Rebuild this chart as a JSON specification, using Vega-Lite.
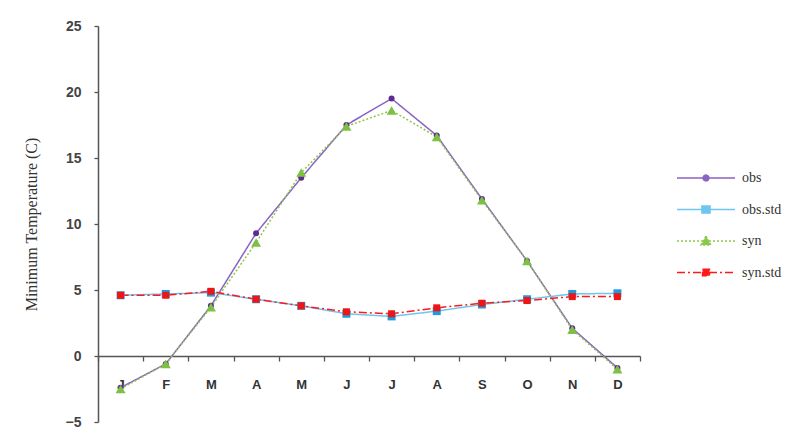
{
  "$schema": "https://vega.github.io/schema/vega-lite/v6.json",
  "autosize": {"type": "none"},
  "padding": {"left": 98, "top": 26, "right": 161, "bottom": 21},
  "width": 542,
  "height": 396,
  "background": "white",
  "config": {
    "view": {"stroke": null}
  },
  "data": {
    "values": [
      {"month": "Jan", "series": "obs", "value": -2.4},
      {"month": "Feb", "series": "obs", "value": -0.6},
      {"month": "Mar", "series": "obs", "value": 3.8},
      {"month": "Apr", "series": "obs", "value": 9.3},
      {"month": "May", "series": "obs", "value": 13.5},
      {"month": "Jun", "series": "obs", "value": 17.5},
      {"month": "Jul", "series": "obs", "value": 19.5},
      {"month": "Aug", "series": "obs", "value": 16.7},
      {"month": "Sep", "series": "obs", "value": 11.9},
      {"month": "Oct", "series": "obs", "value": 7.2},
      {"month": "Nov", "series": "obs", "value": 2.1},
      {"month": "Dec", "series": "obs", "value": -0.9},
      {"month": "Jan", "series": "obs.std", "value": 4.6},
      {"month": "Feb", "series": "obs.std", "value": 4.7},
      {"month": "Mar", "series": "obs.std", "value": 4.8},
      {"month": "Apr", "series": "obs.std", "value": 4.3},
      {"month": "May", "series": "obs.std", "value": 3.8},
      {"month": "Jun", "series": "obs.std", "value": 3.2},
      {"month": "Jul", "series": "obs.std", "value": 3.0},
      {"month": "Aug", "series": "obs.std", "value": 3.4},
      {"month": "Sep", "series": "obs.std", "value": 3.9},
      {"month": "Oct", "series": "obs.std", "value": 4.3},
      {"month": "Nov", "series": "obs.std", "value": 4.7},
      {"month": "Dec", "series": "obs.std", "value": 4.75},
      {"month": "Jan", "series": "syn", "value": -2.5},
      {"month": "Feb", "series": "syn", "value": -0.6},
      {"month": "Mar", "series": "syn", "value": 3.7},
      {"month": "Apr", "series": "syn", "value": 8.6},
      {"month": "May", "series": "syn", "value": 13.9},
      {"month": "Jun", "series": "syn", "value": 17.4},
      {"month": "Jul", "series": "syn", "value": 18.6},
      {"month": "Aug", "series": "syn", "value": 16.6},
      {"month": "Sep", "series": "syn", "value": 11.8},
      {"month": "Oct", "series": "syn", "value": 7.2},
      {"month": "Nov", "series": "syn", "value": 2.0},
      {"month": "Dec", "series": "syn", "value": -1.0},
      {"month": "Jan", "series": "syn.std", "value": 4.6},
      {"month": "Feb", "series": "syn.std", "value": 4.6},
      {"month": "Mar", "series": "syn.std", "value": 4.9},
      {"month": "Apr", "series": "syn.std", "value": 4.3},
      {"month": "May", "series": "syn.std", "value": 3.8},
      {"month": "Jun", "series": "syn.std", "value": 3.35},
      {"month": "Jul", "series": "syn.std", "value": 3.2},
      {"month": "Aug", "series": "syn.std", "value": 3.65},
      {"month": "Sep", "series": "syn.std", "value": 4.0},
      {"month": "Oct", "series": "syn.std", "value": 4.2},
      {"month": "Nov", "series": "syn.std", "value": 4.5},
      {"month": "Dec", "series": "syn.std", "value": 4.5}
    ]
  },
  "encoding": {
    "x": {
      "field": "month",
      "type": "ordinal",
      "sort": ["Jan","Feb","Mar","Apr","May","Jun","Jul","Aug","Sep","Oct","Nov","Dec"],
      "scale": {"type": "band", "paddingInner": 0, "paddingOuter": 0},
      "axis": {
        "title": null,
        "offset": -66,
        "labelAngle": 0,
        "labelExpr": "datum.value ? substring(datum.value, 0, 1) : ''",
        "tickBand": "extent",
        "tickSize": 5,
        "tickColor": "#555555",
        "tickWidth": 1.3,
        "domainColor": "#555555",
        "domainWidth": 1.5,
        "labelPadding": 17,
        "labelFont": "Liberation Sans",
        "labelFontWeight": "bold",
        "labelFontSize": 13,
        "labelColor": "#333333",
        "grid": false
      }
    },
    "y": {
      "field": "value",
      "type": "quantitative",
      "scale": {"domain": [-5, 25], "nice": false, "zero": false},
      "axis": {
        "title": "Minimum Temperature (C)",
        "titleFont": "Liberation Serif",
        "titleFontWeight": "normal",
        "titleFontSize": 16,
        "titleColor": "#333333",
        "titleX": -59,
        "values": [-5, 0, 5, 10, 15, 20, 25],
        "tickSize": 4,
        "tickColor": "#555555",
        "tickWidth": 1.3,
        "domainColor": "#555555",
        "domainWidth": 1.5,
        "labelPadding": 13,
        "labelFont": "Liberation Sans",
        "labelFontWeight": "bold",
        "labelFontSize": 14,
        "labelColor": "#444444",
        "grid": false
      }
    }
  },
  "layer": [
    {
      "mark": {"type": "line", "strokeWidth": 1.5},
      "encoding": {
        "color": {
          "field": "series", "type": "nominal",
          "scale": {"domain": ["obs","obs.std","syn","syn.std"], "range": ["#8A63C4","#6EC6F0","#8CC84B","#FF1A1A"]}
        },
        "strokeDash": {
          "field": "series", "type": "nominal",
          "scale": {"domain": ["obs","obs.std","syn","syn.std"], "range": [[1,0],[1,0],[2,2],[8,3,2,3]]}
        }
      }
    },
    {
      "transform": [{"filter": "datum.series == 'obs'"}],
      "mark": {"type": "point", "shape": "circle", "filled": true, "size": 36, "opacity": 1, "color": "#5E2A91"},
      "encoding": {}
    },
    {
      "transform": [{"filter": "datum.series == 'obs.std'"}],
      "mark": {"type": "point", "shape": "square", "filled": true, "size": 64, "opacity": 1, "color": "#1E9BE0"},
      "encoding": {}
    },
    {
      "transform": [{"filter": "datum.series == 'syn'"}],
      "mark": {"type": "point", "shape": "triangle-up", "filled": true, "size": 100, "opacity": 1, "color": "#7DC142"},
      "encoding": {}
    },
    {
      "transform": [{"filter": "datum.series == 'syn.std'"}],
      "mark": {"type": "point", "shape": "square", "filled": true, "size": 49, "opacity": 1, "color": "#F01515"},
      "encoding": {}
    },
    {
      "transform": [{"filter": "datum.value > 1000"}],
      "mark": {"type": "point", "filled": true, "opacity": 1},
      "encoding": {
        "color": {
          "field": "series", "type": "nominal",
          "scale": {"domain": ["obs","obs.std","syn","syn.std"], "range": ["#8A63C4","#6EC6F0","#8CC84B","#FF1A1A"]},
          "legend": {
            "title": null,
            "orient": "none",
            "legendX": 578,
            "legendY": 144,
            "padding": 0,
            "symbolSize": 3364,
            "symbolStrokeWidth": 1.5,
            "symbolOpacity": 1,
            "clipHeight": 16,
            "rowPadding": 15.5,
            "labelOffset": 6,
            "labelFont": "Liberation Serif",
            "labelFontSize": 14,
            "labelColor": "#333333",
            "encode": {
              "symbols": {
                "update": {
                  "fill": {"scale": "color", "field": "value"},
                  "stroke": {"scale": "color", "field": "value"},
                  "opacity": {"value": 1}
                }
              }
            }
          }
        },
        "shape": {
          "field": "series", "type": "nominal",
          "scale": {"domain": ["obs","obs.std","syn","syn.std"], "range": [
            "M-1,0H1M0.1,0A0.1,0.1,0,1,1,-0.1,0A0.1,0.1,0,1,1,0.1,0Z",
            "M-1,0H1M-0.14,-0.12H0.14V0.12H-0.14Z",
            "M-1,0H1M0,-0.17L0.17,0.14H-0.17Z",
            "M-1,0H1M-0.12,-0.11H0.12V0.11H-0.12Z"
          ]}
        },
        "strokeDash": {
          "field": "series", "type": "nominal",
          "scale": {"domain": ["obs","obs.std","syn","syn.std"], "range": [[1,0],[1,0],[2,2],[8,3,2,3]]}
        }
      }
    }
  ]
}
